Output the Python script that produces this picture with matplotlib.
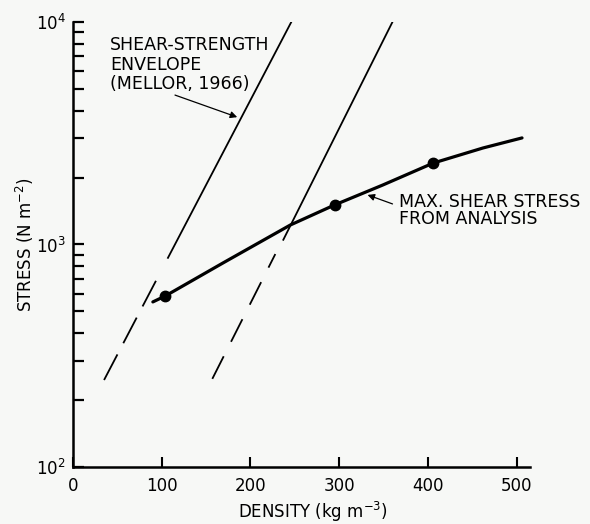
import matplotlib
matplotlib.use("Agg")
import matplotlib.pyplot as plt
from matplotlib.ticker import LogLocator, FixedLocator, NullFormatter

plt.rcParams['font.family'] = ['DejaVu Sans']
plt.rcParams['mathtext.default'] = 'regular'

# Shear-strength envelope (Mellor, 1966): two lines, dashed lower parts
left_dash_x = [35, 96]
left_dash_y = [246, 718]
left_solid_x = [107, 246]
left_solid_y = [871, 10000]
right_dash_x = [157, 228]
right_dash_y = [249, 906]
right_solid_x = [237, 360]
right_solid_y = [1050, 10000]

# Max. shear stress from analysis (curve and computed points)
curve_x = [90, 104, 169, 245, 295, 349, 406, 462, 506]
curve_y = [552, 587, 826, 1224, 1507, 1850, 2323, 2715, 3013]
pts_x = [104, 295, 406]
pts_y = [587, 1507, 2323]

xticks = [0, 100, 200, 300, 400, 500]
xtick_labels = ['0', '100', '200', '300', '400', '500']

bg = '#f7f8f6'
fig = plt.figure(figsize=(5.9, 5.24), dpi=100, facecolor=bg)
ax = fig.add_axes([73/590, 57/524, 457/590, 445/524], facecolor=bg)

ax.set_yscale('log')
ax.set_xlim(0, 515)
ax.set_ylim(100, 10000)

lw_env = 1.3
ax.plot(left_dash_x, left_dash_y, color='black', lw=lw_env, dashes=(16, 7), dash_capstyle='butt')
ax.plot(left_solid_x, left_solid_y, color='black', lw=lw_env)
ax.plot(right_dash_x, right_dash_y, color='black', lw=lw_env, dashes=(14, 9), dash_capstyle='butt')
ax.plot(right_solid_x, right_solid_y, color='black', lw=lw_env)

ax.plot(curve_x, curve_y, color='black', lw=2.3, solid_capstyle='round')
ax.plot(pts_x, pts_y, 'o', color='black', ms=7.5)

for s in ['top', 'right']:
    ax.spines[s].set_visible(False)
for s in ['left', 'bottom']:
    ax.spines[s].set_linewidth(1.8)

ax.xaxis.set_major_locator(FixedLocator(xticks))
ax.set_xticklabels(xtick_labels)
ax.yaxis.set_major_locator(LogLocator(base=10, numticks=5))
ax.yaxis.set_minor_locator(LogLocator(base=10, subs=range(2, 10), numticks=20))
ax.yaxis.set_minor_formatter(NullFormatter())

ax.tick_params(axis='x', which='major', direction='in', length=7, width=1.5, pad=7, labelsize=12)
ax.tick_params(axis='y', which='major', direction='in', length=8, width=1.6, pad=5, labelsize=12)
ax.tick_params(axis='y', which='minor', direction='in', length=8, width=1.6)

ax.set_xlabel('DENSITY (kg m$^{-3}$)', fontsize=12, labelpad=3)
ax.xaxis.set_label_coords(0.525, -0.075)
ax.set_ylabel('STRESS (N m$^{-2}$)', fontsize=12, labelpad=0)

ax.text(0.081, 0.968, 'SHEAR-STRENGTH\nENVELOPE\n(MELLOR, 1966)', transform=ax.transAxes,
        fontsize=12.5, va='top', ha='left', linespacing=1.1)
ax.annotate('', xy=(188, 3700), xytext=(112, 4740),
            arrowprops=dict(arrowstyle='-|>', color='black', lw=0.9, mutation_scale=10))

ax.text(0.713, 0.616, 'MAX. SHEAR STRESS\nFROM ANALYSIS', transform=ax.transAxes,
        fontsize=12.5, va='top', ha='left', linespacing=0.95)
ax.annotate('', xy=(329, 1687), xytext=(363, 1507),
            arrowprops=dict(arrowstyle='-|>', color='black', lw=0.9, mutation_scale=10))

fig.savefig('out.png', dpi=100, facecolor=bg)
